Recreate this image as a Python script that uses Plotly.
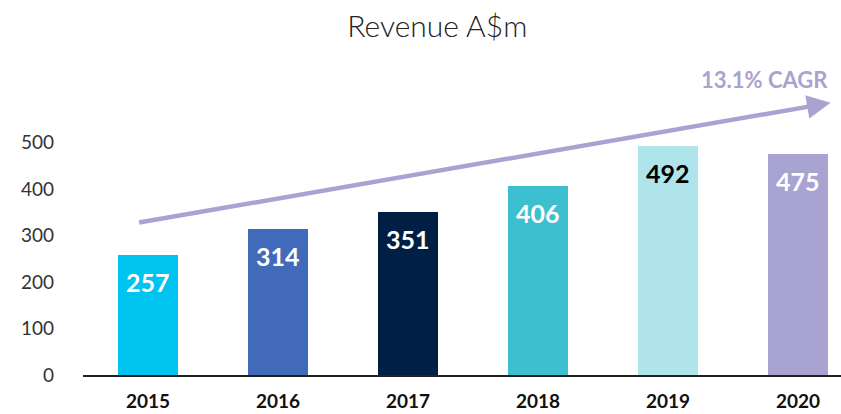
import plotly.graph_objects as go

years = ["2015", "2016", "2017", "2018", "2019", "2020"]
revenue = [257, 314, 351, 406, 492, 475]
bar_colors = ["#00C4F0", "#416ABA", "#001F45", "#3CBFCF", "#AEE4EA", "#A9A3D2"]
label_colors = ["white", "white", "white", "white", "black", "white"]
yticks = [0, 100, 200, 300, 400, 500]
cagr_text = "13.1% CAGR"
arrow_start = (-0.08, 327)
arrow_end = (5.25, 585)

FONT = "Lato"
xs = list(range(len(years)))

fig = go.Figure()
fig.add_trace(go.Bar(
    x=xs, y=revenue, marker=dict(color=bar_colors, line=dict(width=0)),
    width=0.4615, hoverinfo="skip", showlegend=False,
))

for x, v, c in zip(xs, revenue, label_colors):
    fig.add_annotation(x=x, y=v, xref="x", yref="y", text=str(v), showarrow=False,
                       yanchor="middle", yshift=-27,
                       font=dict(family=FONT, size=25, color=c, weight=700))

fig.add_annotation(x=arrow_end[0], y=arrow_end[1], ax=arrow_start[0], ay=arrow_start[1],
                   xref="x", yref="y", axref="x", ayref="y", text="", showarrow=True,
                   arrowhead=2, arrowsize=1.05, arrowwidth=4.5, arrowcolor="#A9A3D2", standoff=0)

fig.add_annotation(x=0.986, y=1.003, xref="paper", yref="paper", text=cagr_text,
                   showarrow=False, xanchor="right", yanchor="middle",
                   font=dict(family=FONT, size=22, color="#A9A3D2", weight=700))

fig.update_layout(
    width=841, height=414,
    margin=dict(l=83, r=0, t=80, b=39),
    paper_bgcolor="white", plot_bgcolor="white",
    title=dict(text="Revenue A$m", x=0.52, xanchor="center", y=0.935, yanchor="middle",
               font=dict(family=FONT, size=30, color="#222222", weight=300)),
    xaxis=dict(range=[-0.5, 5.33], tickvals=xs, ticktext=years, showgrid=False,
               showline=True, linecolor="#222222", linewidth=1.5, ticks="",
               ticklabelstandoff=8,
               tickfont=dict(family=FONT, size=19, color="#111111", weight=700),
               zeroline=False, fixedrange=True),
    yaxis=dict(range=[0, 634], tickvals=yticks, showgrid=False, zeroline=False,
               showline=False, ticks="", ticklabelstandoff=28,
               tickfont=dict(family=FONT, size=19, color="#333333"), fixedrange=True),
    bargap=0,
)

fig.write_html("out.html", config={"displayModeBar": False},
               post_script="document.body.style.margin='0';document.body.style.overflow='hidden';")
